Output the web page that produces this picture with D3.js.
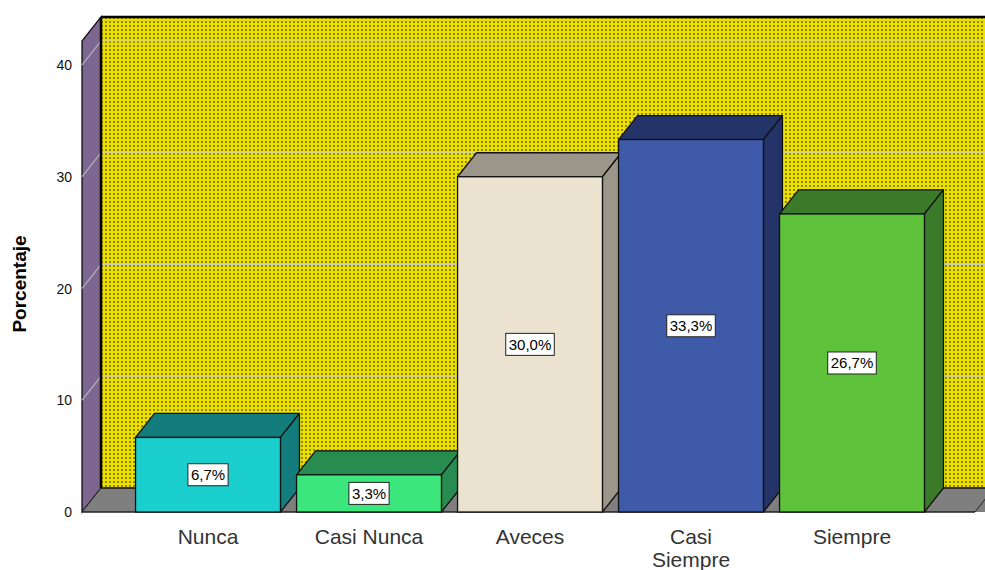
<!DOCTYPE html>
<html>
<head>
<meta charset="utf-8">
<script src="https://cdn.jsdelivr.net/npm/d3@7"></script>
<style>
html,body{margin:0;padding:0;background:#fff;}
svg{display:block;}
</style>
</head>
<body>
<svg id="chart" width="985" height="570"></svg>
<script>
// ---- data ----
const categories = ["Nunca", "Casi Nunca", "Aveces", "Casi Siempre", "Siempre"];
const values = [6.67, 3.33, 30.0, 33.33, 26.67];
const valueLabels = ["6,7%", "3,3%", "30,0%", "33,3%", "26,7%"];
const yTicks = [0, 10, 20, 30, 40];
const yTitle = "Porcentaje";
const frontColors = ["#1ccfcf", "#3be67c", "#ebe3d0", "#3f5aa8", "#5ec33a"];
const depthColors = ["#137c7c", "#268c4f", "#9a968a", "#243468", "#3a7a28"];

// ---- layout ----
const svg = d3.select("#chart");
const dx = 19, dy = 24;
const axisX = 82, floorRight = 975;
const y = d3.scaleLinear().domain([0, 40]).range([512, 65]);
const yMaxWall = 42.15;
const x = d3.scaleBand().domain(categories).range([127.5, 932.5]).paddingInner(0.1).paddingOuter(0.05);

// pattern for back wall
const defs = svg.append("defs");
const pat = defs.append("pattern").attr("id", "dots").attr("patternUnits", "userSpaceOnUse")
  .attr("width", 4).attr("height", 4);
pat.append("rect").attr("width", 4).attr("height", 4).attr("fill", "#ebe000");
pat.append("rect").attr("x", 1).attr("y", 1).attr("width", 2).attr("height", 2).attr("fill", "#8e8600");

const y0 = y(0);
const yTopFront = y(yMaxWall);

// back wall
svg.append("rect")
  .attr("x", axisX + dx).attr("y", yTopFront - dy)
  .attr("width", floorRight + dx - (axisX + dx) + 20).attr("height", (y0 - dy) - (yTopFront - dy))
  .attr("fill", "url(#dots)");

// side wall
svg.append("polygon")
  .attr("points", [[axisX, y0], [axisX, yTopFront], [axisX + dx, yTopFront - dy], [axisX + dx, y0 - dy]].map(p => p.join(",")).join(" "))
  .attr("fill", "#7d668f").attr("stroke", "#000").attr("stroke-width", 1.2);

// floor
svg.append("polygon")
  .attr("points", [[axisX, y0], [axisX + dx, y0 - dy], [floorRight + dx + 30, y0 - dy], [floorRight + 30, y0 + 0], [floorRight, y0]].map(p => p.join(",")).join(" "))
  .attr("fill", "#7f7f7f").attr("stroke", "none");
svg.append("polygon")
  .attr("points", [[axisX, y0], [axisX + dx, y0 - dy], [floorRight + dx, y0 - dy], [floorRight, y0]].map(p => p.join(",")).join(" "))
  .attr("fill", "#7f7f7f").attr("stroke", "#222").attr("stroke-width", 1);

// gridlines
const grid = svg.append("g");
yTicks.filter(t => t > 0).forEach(t => {
  grid.append("line").attr("x1", axisX + dx).attr("x2", 985).attr("y1", y(t) - dy).attr("y2", y(t) - dy)
    .attr("stroke", "#cfcfb8").attr("stroke-width", 1.2);
  grid.append("line").attr("x1", axisX).attr("x2", axisX + dx).attr("y1", y(t)).attr("y2", y(t) - dy)
    .attr("stroke", "#c0b8c8").attr("stroke-width", 1.2);
});

// wall borders
svg.append("line").attr("x1", axisX + dx).attr("x2", 985).attr("y1", yTopFront - dy).attr("y2", yTopFront - dy)
  .attr("stroke", "#000").attr("stroke-width", 2.5);
svg.append("line").attr("x1", axisX + dx).attr("x2", axisX + dx).attr("y1", yTopFront - dy).attr("y2", y0 - dy)
  .attr("stroke", "#000").attr("stroke-width", 2.5);
svg.append("line").attr("x1", axisX + dx).attr("x2", 985).attr("y1", y0 - dy).attr("y2", y0 - dy)
  .attr("stroke", "#222").attr("stroke-width", 1.5);
svg.append("line").attr("x1", axisX).attr("x2", floorRight).attr("y1", y0).attr("y2", y0)
  .attr("stroke", "#222").attr("stroke-width", 1.2);

// bars
const bars = svg.append("g");
categories.forEach((c, i) => {
  const x0 = x(c), x1 = x(c) + x.bandwidth();
  const yt = y(values[i]);
  const g = bars.append("g");
  const st = "#111";
  g.append("polygon")
    .attr("points", [[x0, yt], [x0 + dx, yt - dy], [x1 + dx, yt - dy], [x1, yt]].map(p => p.join(",")).join(" "))
    .attr("fill", depthColors[i]).attr("stroke", st).attr("stroke-width", 1.3).attr("stroke-linejoin", "round");
  g.append("polygon")
    .attr("points", [[x1, yt], [x1 + dx, yt - dy], [x1 + dx, y0 - dy], [x1, y0]].map(p => p.join(",")).join(" "))
    .attr("fill", depthColors[i]).attr("stroke", st).attr("stroke-width", 1.3).attr("stroke-linejoin", "round");
  g.append("rect").attr("x", x0).attr("y", yt).attr("width", x1 - x0).attr("height", y0 - yt)
    .attr("fill", frontColors[i]).attr("stroke", st).attr("stroke-width", 1.3);

  // value label
  const cx = (x0 + x1) / 2, cy = (yt + y0) / 2;
  const t = g.append("text").attr("x", cx).attr("y", cy + 5.5).attr("text-anchor", "middle")
    .attr("font-family", "Liberation Sans, Arial, sans-serif").attr("font-size", 15).attr("fill", "#000")
    .text(valueLabels[i]);
  const bb = t.node().getBBox();
  g.insert("rect", "text").attr("x", bb.x - 3).attr("y", cy - 11).attr("width", bb.width + 6).attr("height", 22)
    .attr("fill", "#fff").attr("stroke", "#222").attr("stroke-width", 1);
});

// y tick labels
const ty = svg.append("g");
yTicks.forEach(t => {
  ty.append("text").attr("x", 72).attr("y", y(t) + 5).attr("text-anchor", "end")
    .attr("font-family", "Liberation Sans, Arial, sans-serif").attr("font-size", 14).attr("fill", "#111")
    .text(t);
});

// y title
svg.append("text").attr("transform", "translate(26,284) rotate(-90)").attr("text-anchor", "middle")
  .attr("font-family", "Liberation Sans, Arial, sans-serif").attr("font-size", 19).attr("font-weight", "bold")
  .attr("fill", "#000").text(yTitle);

// category labels
const cl = svg.append("g");
categories.forEach(c => {
  const cx = x(c) + x.bandwidth() / 2;
  const words = c === "Casi Siempre" ? ["Casi", "Siempre"] : [c];
  words.forEach((w, k) => {
    cl.append("text").attr("x", cx).attr("y", 544 + k * 23).attr("text-anchor", "middle")
      .attr("font-family", "Liberation Sans, Arial, sans-serif").attr("font-size", 21).attr("fill", "#333")
      .text(w);
  });
});
</script>
</body>
</html>
